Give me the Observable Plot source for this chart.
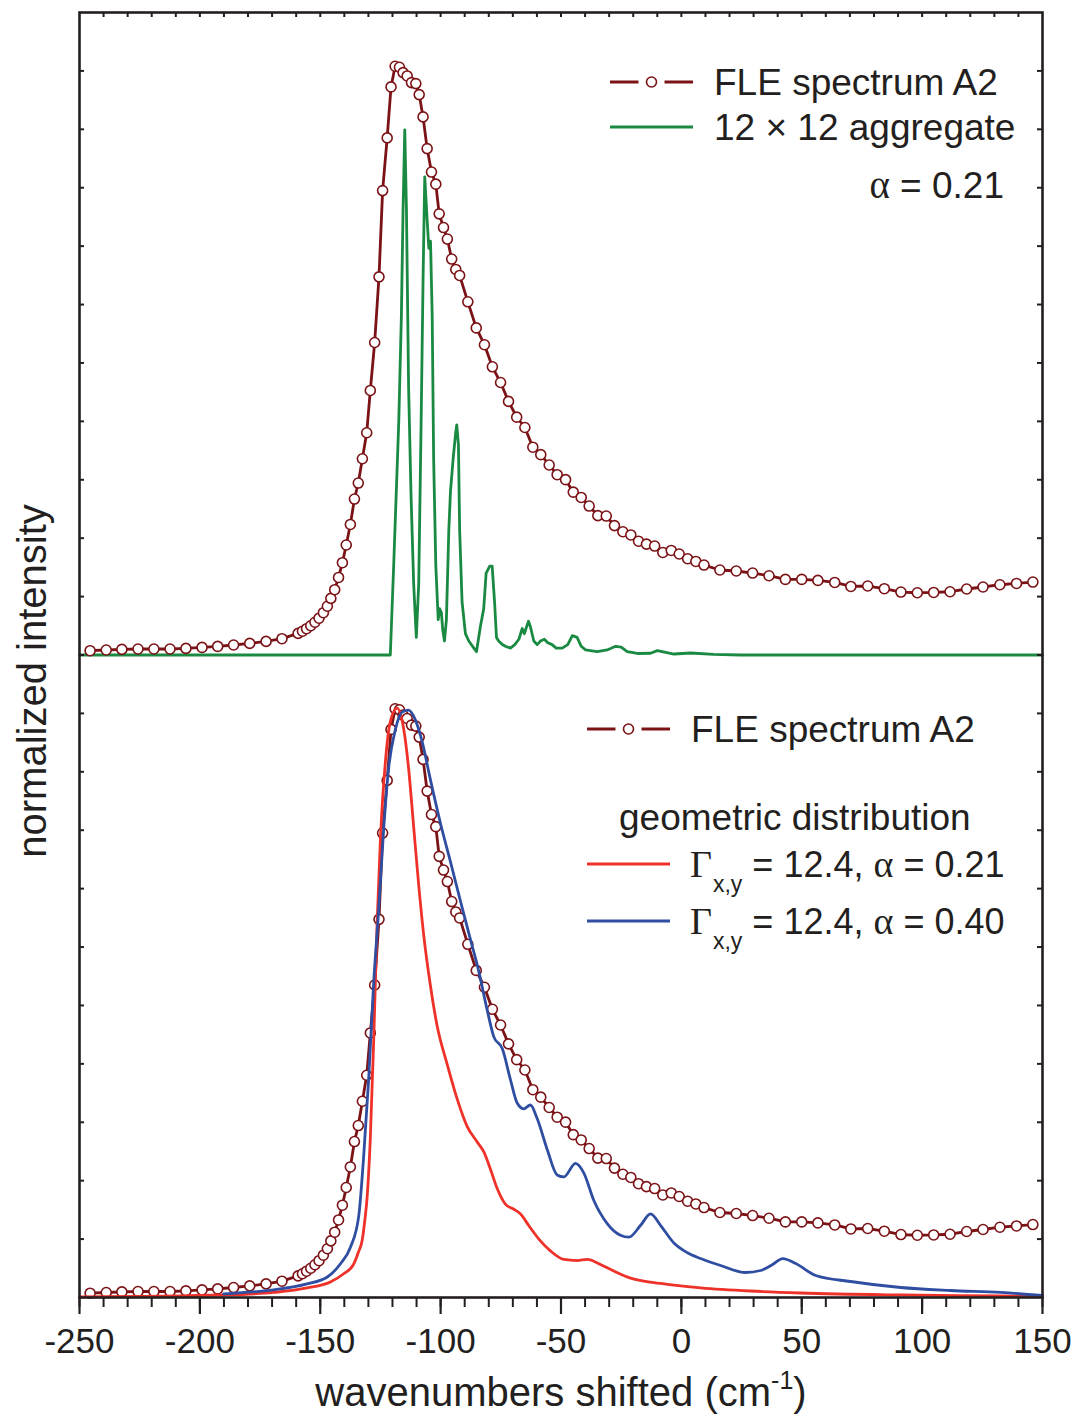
<!DOCTYPE html>
<html><head><meta charset="utf-8">
<script src="https://cdn.jsdelivr.net/npm/d3@7"></script>
<script src="https://cdn.jsdelivr.net/npm/@observablehq/plot@0.6"></script>
<style>body{margin:0;background:#fff}#chart{width:1075px;height:1416px}</style>
</head><body><div id="chart"></div><script>
// FLE spectrum A2 (used in both panels)
const fleX = [-245.6,-238.9,-232.4,-225.7,-219.1,-212.4,-205.8,-199.1,-192.6,-186,-179.3,-172.5,-165.9,-159.2,-157.4,-155.7,-153.95,-152.2,-150.5,-148.7,-147.05,-145.6,-144,-142.4,-140.8,-139.2,-137.5,-135.8,-134.2,-132.5,-130.7,-129.2,-127.4,-125.6,-124.1,-122.2,-120.6,-118.9,-117.1,-115.6,-113.9,-112.1,-110.3,-108.9,-107.3,-105.6,-103.8,-102,-100.6,-98.8,-97.2,-95.4,-93.7,-92.1,-88.7,-85.2,-81.8,-78.5,-75.1,-71.8,-68.4,-65,-61.7,-58.4,-54.9,-51.6,-48.1,-44.9,-41.6,-38.3,-34.7,-31.2,-27.8,-24.3,-21,-17.8,-14.5,-11.1,-7.7,-4.2,-0.9,2.6,6,9.4,16,22.8,29.6,36.4,43.2,50,56.7,63.7,70.4,77.4,84.3,91.2,98,104.8,111.6,118.5,125.3,132.3,139.2,146];
const fleY = [0.0074,0.0086,0.0096,0.0103,0.0103,0.0103,0.0113,0.013,0.0147,0.0171,0.0199,0.0233,0.0279,0.037,0.0407,0.045,0.0501,0.0561,0.063,0.0724,0.0835,0.0969,0.1118,0.1328,0.158,0.1883,0.2235,0.267,0.2944,0.336,0.3805,0.4529,0.535,0.6474,0.7951,0.8853,0.9726,1.008,1.0063,0.9971,0.9914,0.98,0.9783,0.9594,0.9213,0.867,0.8268,0.8061,0.7553,0.7318,0.7121,0.6779,0.6601,0.6498,0.6047,0.56,0.5312,0.4934,0.4665,0.4342,0.4072,0.3895,0.3558,0.343,0.3253,0.3087,0.3002,0.2788,0.2697,0.255,0.2386,0.2379,0.2215,0.211,0.2055,0.1948,0.1898,0.1865,0.1756,0.179,0.1729,0.1648,0.1602,0.154,0.1455,0.1438,0.1403,0.1357,0.1294,0.1294,0.1277,0.1242,0.1174,0.1181,0.1135,0.1078,0.1066,0.1071,0.1083,0.113,0.1164,0.1203,0.1225,0.1249];

// 12 x 12 aggregate (top panel)
const aggX = [-250,-120.9,-119.5,-117.4,-116.3,-115.6,-114.9,-114.2,-113.3,-112.3,-111.2,-110.1,-109.1,-108.1,-107.3,-106.6,-105.6,-104.9,-104.2,-103.5,-102.9,-102,-101,-100.4,-99.7,-99.1,-98.4,-97.6,-96.6,-95.9,-94.8,-93.8,-93.3,-92.6,-92.1,-91.1,-89.7,-88.3,-86.2,-85.1,-83.5,-82.1,-81.1,-79.6,-78.6,-77.6,-76.8,-75.9,-74.4,-73.1,-71,-69.2,-67.5,-66.1,-65.2,-64.3,-63.5,-62.7,-61.3,-59.9,-58.5,-56.9,-55.5,-53.7,-52,-49.5,-47.2,-45.3,-43.3,-41.6,-39.8,-35,-30.8,-27.3,-25,-22.5,-18.3,-12.8,-10,-3.1,3.8,13.4,24.6,150];
const aggY = [0,0,0.1528,0.3976,0.5807,0.7638,0.8992,0.7638,0.458,0.2745,0.122,0.0301,0.122,0.3976,0.6413,0.8186,0.7452,0.6964,0.7085,0.5807,0.336,0.1528,0.0606,0.0792,0.0729,0.0423,0.024,0.0606,0.2134,0.2807,0.336,0.3787,0.3938,0.3601,0.2134,0.0912,0.0365,0.024,0.0118,0.0056,0.0484,0.0792,0.1402,0.1523,0.1523,0.0912,0.0301,0.024,0.0178,0.0149,0.0118,0.0178,0.027,0.0454,0.0365,0.0484,0.0577,0.0484,0.024,0.0178,0.024,0.027,0.021,0.0178,0.0118,0.0118,0.0178,0.0332,0.0301,0.0149,0.0087,0.0056,0.0087,0.0149,0.0135,0.0056,0.0026,0.003,0.0074,0.0017,0.0034,0.001,0,0];

// geometric distribution, Γ = 12.4, α = 0.21 (bottom panel)
const redX = [-250,-190.3,-169.5,-155.4,-145.8,-140.4,-136.2,-134.2,-132.6,-131.5,-130.5,-129.2,-127.8,-126.4,-125,-122.9,-120.9,-118.1,-115.3,-113.3,-111.2,-109.1,-107,-104.2,-101.5,-97.3,-93.1,-89,-84.8,-82.1,-79.3,-76.5,-73.1,-69.6,-66.8,-63.4,-59.2,-54.4,-48.8,-43.3,-39.1,-33.6,-28.1,-21.1,-11.4,-3.1,8,28.8,49.5,91.1,132.7,150];
const redY = [0.0009,0.0043,0.0086,0.0163,0.0265,0.0402,0.0565,0.077,0.0976,0.1318,0.1732,0.273,0.4398,0.6392,0.7857,0.919,0.9858,1.0089,0.9723,0.9057,0.8057,0.7058,0.6194,0.5328,0.4662,0.3996,0.3396,0.293,0.2663,0.2497,0.2197,0.1865,0.1598,0.1511,0.1431,0.1232,0.1,0.0799,0.0652,0.0633,0.0652,0.0566,0.0454,0.0332,0.0253,0.0212,0.0166,0.0111,0.0077,0.0043,0.0026,0.0017];

// geometric distribution, Γ = 12.4, α = 0.40 (bottom panel)
const blueX = [-190.1,-169.4,-155.5,-147.2,-141.6,-137.5,-134,-132,-129.9,-127.8,-125.7,-123.6,-121.6,-118.8,-116,-113.3,-110.5,-107.7,-104.2,-100.1,-95.9,-91.8,-87.6,-84.2,-80.7,-77.9,-74.4,-71,-68.2,-65.5,-62.7,-59.9,-55.7,-51.6,-48.8,-44,-40.5,-36.4,-30.8,-25.3,-21.8,-17,-12.8,-8.6,-3.1,2.5,8,16.3,26.7,32.9,37.9,42.1,47.5,55.8,70.3,91.1,111.9,132.7,150];
const blueY = [0.0063,0.0132,0.0234,0.0347,0.0577,0.0856,0.1398,0.2396,0.3731,0.5394,0.6659,0.8057,0.9057,0.9723,1.0022,1.0055,0.9889,0.9522,0.8857,0.8124,0.7458,0.6793,0.6127,0.5593,0.4929,0.4462,0.4262,0.3731,0.3329,0.323,0.3296,0.3063,0.2531,0.2098,0.2064,0.2297,0.2131,0.1665,0.1266,0.1066,0.1032,0.1232,0.1431,0.1232,0.0933,0.0767,0.0667,0.0548,0.0428,0.0462,0.0565,0.0667,0.0582,0.0377,0.0274,0.0171,0.012,0.0086,0.0034];

// axis ticks
const xMajorTicks = [-250,-200,-150,-100,-50,0,50,100,150];
const xMinorTicks = d3.range(-250, 151, 10);
const xTopTicks = d3.range(-240, 150, 10);
const yTicks = d3.range(1, 22).map(i => i / 10);

const PANEL = 1.1; // each panel spans 0..1.1; top panel stacked above bottom one
const W = 1075, H = 1416, ML = 79, MR = 33, MT = 12, MB = 119;
const ink = "#231f20", cFle = "#7b1216", cGreen = "#1a8a43", cRed = "#ee3129", cBlue = "#2f4ea2";
const sans = "'Liberation Sans', Arial, Helvetica, sans-serif";
const serif = "'Liberation Serif', 'Times New Roman', serif";

const zip = (xs, ys, off) => xs.map((x, i) => ({x, y: ys[i] + off}));
const fleTop = zip(fleX, fleY, PANEL);
const fleBot = zip(fleX, fleY, 0);
const agg = zip(aggX, aggY, PANEL);
const red = zip(redX, redY, 0);
const blue = zip(blueX, blueY, 0);

const innerW = W - ML - MR, innerH = H - MT - MB;
const R = 5;

const chart = Plot.plot({
  width: W, height: H,
  marginLeft: ML, marginRight: MR, marginTop: MT, marginBottom: MB,
  x: {domain: [-250, 150]},
  y: {domain: [0, 2 * PANEL], axis: null},
  style: {fontFamily: sans, color: ink, background: "white", overflow: "visible"},
  marks: [
    // top panel
    Plot.line(agg, {x: "x", y: "y", stroke: cGreen, strokeWidth: 2.8}),
    Plot.line(fleTop, {x: "x", y: "y", stroke: cFle, strokeWidth: 2.8}),
    Plot.dot(fleTop, {x: "x", y: "y", r: R, fill: "white", stroke: cFle, strokeWidth: 1.6}),
    // bottom panel
    Plot.line(fleBot, {x: "x", y: "y", stroke: cFle, strokeWidth: 2.8}),
    Plot.dot(fleBot, {x: "x", y: "y", r: R, fill: "white", stroke: cFle, strokeWidth: 1.6}),
    Plot.line(red, {x: "x", y: "y", stroke: cRed, strokeWidth: 2.8, curve: "monotone-x"}),
    Plot.line(blue, {x: "x", y: "y", stroke: cBlue, strokeWidth: 2.8, curve: "monotone-x"}),
    // inward ticks on left, right and top edges
    Plot.tickY(yTicks, {y: d => d, insetRight: innerW - 5, stroke: ink, strokeWidth: 2}),
    Plot.tickY(yTicks, {y: d => d, insetLeft: innerW - 5, stroke: ink, strokeWidth: 2}),
    Plot.tickX(xTopTicks, {x: d => d, insetBottom: innerH - 5, stroke: ink, strokeWidth: 2}),
    // bottom axis
    Plot.axisX({ticks: xMinorTicks, tickSize: 10, tickFormat: () => "", strokeWidth: 2, label: null}),
    Plot.axisX({ticks: xMajorTicks, tickSize: 17, tickPadding: 14, tickFormat: d => String(d),
                fontSize: 35, strokeWidth: 2.2, label: null}),
    Plot.frame({stroke: ink, strokeWidth: 2.6})
  ]
});
document.getElementById("chart").appendChild(chart);

// labels and legends
const svg = d3.select(chart);
const g = svg.append("g").attr("font-family", sans).attr("fill", ink).attr("text-anchor", "start");

g.append("text").attr("transform", "translate(46,681) rotate(-90)")
  .attr("text-anchor", "middle").attr("font-size", 40).text("normalized intensity");

const xl = g.append("text").attr("x", 561).attr("y", 1406).attr("text-anchor", "middle").attr("font-size", 40);
xl.append("tspan").text("wavenumbers shifted (cm");
xl.append("tspan").attr("font-size", 25).attr("dy", -17).text("-1");
xl.append("tspan").attr("dy", 17).text(")");

function fleKey(x0, x1, y) {
  const mid = (x0 + x1) / 2;
  g.append("line").attr("x1", x0).attr("x2", mid - 13).attr("y1", y).attr("y2", y)
    .attr("stroke", cFle).attr("stroke-width", 3);
  g.append("line").attr("x1", mid + 13).attr("x2", x1).attr("y1", y).attr("y2", y)
    .attr("stroke", cFle).attr("stroke-width", 3);
  g.append("circle").attr("cx", mid).attr("cy", y).attr("r", R)
    .attr("fill", "white").attr("stroke", cFle).attr("stroke-width", 1.6);
}
function lineKey(x0, x1, y, c) {
  g.append("line").attr("x1", x0).attr("x2", x1).attr("y1", y).attr("y2", y)
    .attr("stroke", c).attr("stroke-width", 3);
}
function label(x, y, txt, anchor) {
  return g.append("text").attr("x", x).attr("y", y).attr("font-size", 37)
    .attr("text-anchor", anchor || "start").text(txt);
}

// top legend
fleKey(610, 693, 82);
label(714, 95, "FLE spectrum A2");
lineKey(610, 693, 127, cGreen);
label(714, 140, "12 × 12 aggregate");
const a1 = g.append("text").attr("x", 1004).attr("y", 198).attr("font-size", 37).attr("text-anchor", "end");
a1.append("tspan").attr("font-family", serif).attr("font-size", 39).text("α");
a1.append("tspan").text(" = 0.21");

// bottom legend
fleKey(587, 670, 729);
label(691, 742, "FLE spectrum A2");
label(619, 830, "geometric distribution");
function gammaLine(y, c, alpha) {
  lineKey(587, 670, y, c);
  const t = g.append("text").attr("x", 690).attr("y", y + 13).attr("font-size", 36).attr("text-anchor", "start");
  t.append("tspan").attr("font-family", serif).attr("font-size", 38).text("Γ");
  t.append("tspan").attr("font-size", 23).attr("dy", 15).attr("dx", 1).text("x,y");
  t.append("tspan").attr("dy", -15).text(" = 12.4, ");
  t.append("tspan").attr("font-family", serif).attr("font-size", 38).text("α");
  t.append("tspan").text(" = " + alpha);
}
gammaLine(864, cRed, "0.21");
gammaLine(921, cBlue, "0.40");
</script></body></html>
